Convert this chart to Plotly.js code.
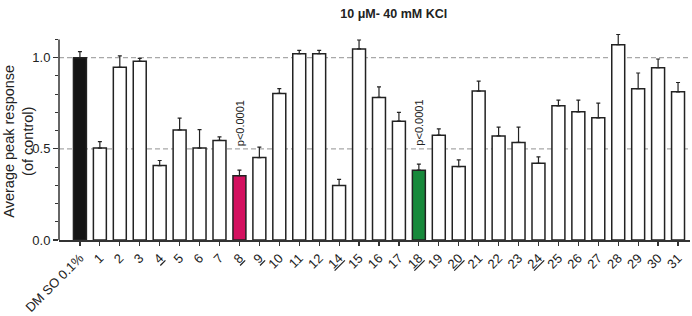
<!DOCTYPE html>
<html>
<head>
<meta charset="utf-8">
<script src="https://cdn.plot.ly/plotly-3.0.1.min.js"></script>
<style>html,body{margin:0;padding:0;background:#fff;}#chart{width:692px;height:316px;}</style>
</head>
<body>
<div id="chart"></div>
<script>
// Categories (compound 13 absent in the original)
const categories = ["DMSO 0.1%","1","2","3","4","5","6","7","8","9","10","11","12","14","15","16","17","18","19","20","21","22","23","24","25","26","27","28","29","30","31"];
// Tick labels (underlined compounds as in the figure)
const tickLabels = ["DM SO 0.1%","1","2","3","<u>4</u>","5","6","7","<u>8</u>","<u>9</u>","10","11","12","<u>14</u>","15","16","17","<u>18</u>","19","<u>20</u>","21","22","23","<u>24</u>","25","26","27","28","29","30","31"];
// Average peak response (fraction of control)
const response = [1.00,0.504,0.947,0.98,0.408,0.604,0.504,0.546,0.353,0.452,0.804,1.022,1.022,0.299,1.048,0.782,0.652,0.383,0.575,0.403,0.817,0.571,0.535,0.421,0.736,0.703,0.67,1.071,0.83,0.945,0.813];
// Error (upper, SEM)
const sem = [0.033,0.036,0.063,0.016,0.028,0.064,0.102,0.02,0.03,0.057,0.026,0.018,0.018,0.034,0.049,0.058,0.048,0.033,0.035,0.037,0.055,0.048,0.084,0.035,0.031,0.064,0.081,0.057,0.086,0.048,0.051];
// Significant compounds annotated
const sigCategories = ["8","18"];
const sigLabel = "p&lt;0.0001";
const yTitle = "Average peak response<br>(of control)";

const highlight = {"DMSO 0.1%":"#141414","8":"#d3105f","18":"#17893b"};
const fills = categories.map(c => highlight[c] || "#ffffff");
const zeros = categories.map(() => 0);
const FONT = "Arial, 'Liberation Sans', sans-serif";

const trace = {
  type: "bar",
  x: categories,
  y: response,
  width: 0.65,
  marker: {color: fills, line: {color: "#222", width: 1.5}},
  error_y: {type: "data", symmetric: false, array: sem, arrayminus: zeros, color: "#222", thickness: 1.2, width: 2},
  hoverinfo: "x+y"
};

const annotations = sigCategories.map(c => ({
  x: categories.indexOf(c), xref: "x", y: 0.643, yref: "y",
  text: sigLabel, textangle: -90, showarrow: false,
  xanchor: "center", yanchor: "middle",
  font: {family: FONT, size: 11, color: "#222"}
}));
annotations.push({
  x: -0.064, xref: "paper", y: 0.48, yref: "paper",
  text: yTitle, textangle: -90, showarrow: false,
  xanchor: "center", yanchor: "middle", borderpad: 0,
  font: {family: FONT, size: 14.5, color: "#222"}
});

const layout = {
  width: 692, height: 316,
  margin: {l: 59, r: 2, t: 34, b: 76},
  paper_bgcolor: "#fff", plot_bgcolor: "#fff",
  font: {family: FONT, color: "#222", size: 13},
  showlegend: false,
  bargap: 0.35,
  title: {text: "<b>10 μM- 40 mM KCl</b>", font: {size: 12.5, color: "#222"}, x: 0.569, xanchor: "center", xref: "container", y: 0.957, yanchor: "middle", yref: "container"},
  xaxis: {
    type: "category",
    range: [-1.05, 30.6],
    tickvals: categories, ticktext: tickLabels,
    tickangle: -45,
    ticks: "outside", ticklen: 4, tickwidth: 1.2, tickcolor: "#333",
    showline: true, linecolor: "#333", linewidth: 1.5,
    showgrid: false, zeroline: false,
    tickfont: {size: 13, color: "#222"}
  },
  yaxis: {
    range: [0, 1.13],
    tickvals: [0, 0.5, 1.0], ticktext: ["0.0","0.5","1.0"],
    ticks: "outside", ticklen: 5, tickwidth: 1.2, tickcolor: "#333",
    minor: {tick0: 0, dtick: 0.1, ticks: "outside", ticklen: 3, tickwidth: 1, tickcolor: "#333", showgrid: false},
    showline: false, showgrid: false, zeroline: false,
    tickfont: {size: 13, color: "#222"}
  },
  shapes: [
    {type: "line", xref: "paper", x0: 0, x1: 1, yref: "y", y0: 0.5, y1: 0.5, line: {color: "#a8a8a8", width: 1.3, dash: "5px,3px"}, layer: "below"},
    {type: "line", xref: "paper", x0: 0, x1: 1, yref: "y", y0: 1.0, y1: 1.0, line: {color: "#a8a8a8", width: 1.3, dash: "5px,3px"}, layer: "below"},
    {type: "line", xref: "paper", x0: 0, x1: 0, yref: "y", y0: 0, y1: 1.1, line: {color: "#333", width: 1.5}}
  ],
  annotations: annotations
};

Plotly.newPlot("chart", [trace], layout, {displayModeBar: false, staticPlot: true});
</script>
</body>
</html>
